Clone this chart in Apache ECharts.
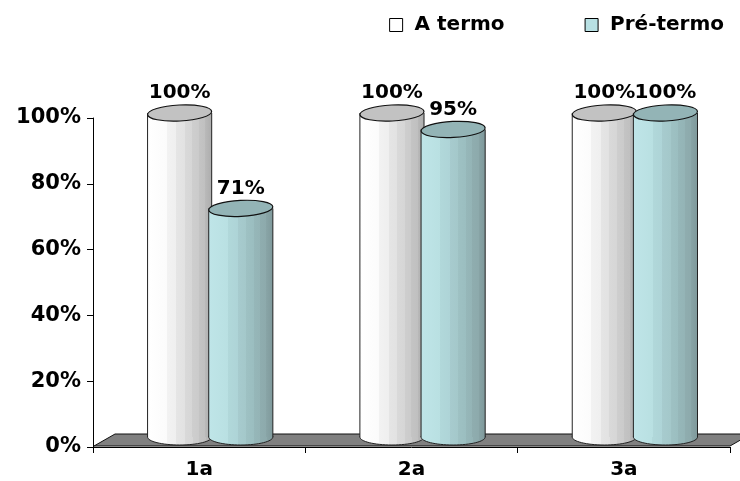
<!DOCTYPE html>
<html>
<head>
<meta charset="utf-8">
<script src="https://cdn.jsdelivr.net/npm/echarts@6/dist/echarts.min.js"></script>
<style>
  html, body { margin: 0; padding: 0; background: #ffffff; }
  #chart { width: 740px; height: 481px; }
</style>
</head>
<body>
<div id="chart"></div>
<script>
// Categories and percentages per group
const categories = ['1a', '2a', '3a'];
const seriesNames = ['A termo', 'Pré-termo'];
const aTermo = [100, 100, 100];
const preTermo = [71, 95, 100];
const yMin = 0, yMax = 100, yStep = 20;

const FONT = 'DejaVu Sans';

// Cylinder palettes: faceted side shading, top cap, legend swatch
const palettes = [
  {
    swatch: '#ffffff',
    cap: '#c2c2c2',
    side: [
      [0, '#ffffff'], [0.30, '#fbfbfb'], [0.30, '#f2f2f2'], [0.45, '#efefef'],
      [0.45, '#e5e5e5'], [0.58, '#e2e2e2'], [0.58, '#d9d9d9'], [0.70, '#d6d6d6'],
      [0.70, '#cecece'], [0.80, '#cbcbcb'], [0.80, '#c4c4c4'], [0.90, '#c0c0c0'],
      [0.90, '#b9b9b9'], [1, '#adadad']
    ]
  },
  {
    swatch: '#b8e0e3',
    cap: '#93b4b6',
    side: [
      [0, '#bfe5e8'], [0.30, '#b9e0e2'], [0.30, '#b1d8da'], [0.45, '#aed4d7'],
      [0.45, '#a7cbce'], [0.58, '#a4c8ca'], [0.58, '#9ec1c3'], [0.70, '#9bbec0'],
      [0.70, '#96b7b9'], [0.80, '#94b4b6'], [0.80, '#8fadaf'], [0.90, '#8daaac'],
      [0.90, '#88a4a6'], [1, '#7f999b']
    ]
  }
];

function gradient(stops) {
  return {
    type: 'linear', x: 0, y: 0, x2: 1, y2: 0,
    colorStops: stops.map(s => ({ offset: s[0], color: s[1] }))
  };
}

// Draws one 3D cylinder per data item, placed from the category band
function cylinderRenderer(seriesIndex) {
  const pal = palettes[seriesIndex];
  const side = seriesIndex === 0 ? -1 : 1;
  return function (params, api) {
    const cat = api.value(0);
    const val = api.value(1);
    const band = api.size([1, 0])[0];
    const w = band * 0.302;
    const rx = w / 2;
    const ry = 8;
    const base = api.coord([cat, 0]);
    const cx = base[0] + band * 0.052 + side * band * 0.144;
    const bottomY = base[1] - 10;
    const topY = api.coord([cat, val])[1] - 5;
    const fill = gradient(pal.side);
    return {
      type: 'group',
      children: [
        {
          type: 'ellipse',
          shape: { cx: cx, cy: bottomY, rx: rx, ry: ry },
          style: { fill: fill, stroke: '#222', lineWidth: 1 }
        },
        {
          type: 'rect',
          shape: { x: cx - rx, y: topY, width: w, height: bottomY - topY },
          style: { fill: fill }
        },
        {
          type: 'line',
          shape: { x1: cx - rx, y1: topY, x2: cx - rx, y2: bottomY },
          style: { stroke: '#222', lineWidth: 1 }
        },
        {
          type: 'line',
          shape: { x1: cx + rx, y1: topY, x2: cx + rx, y2: bottomY },
          style: { stroke: '#222', lineWidth: 1 }
        },
        {
          type: 'ellipse',
          shape: { cx: cx, cy: topY, rx: rx, ry: ry },
          rotation: 0.05,
          originX: cx, originY: topY,
          style: { fill: pal.cap, stroke: '#111', lineWidth: 1.2 }
        },
        {
          type: 'text',
          x: cx, y: topY - ry - 2,
          style: {
            text: val + '%',
            align: 'center', verticalAlign: 'bottom',
            fontFamily: FONT, fontWeight: 'bold', fontSize: 20, fill: '#000'
          }
        }
      ]
    };
  };
}

// Grey floor slab under the cylinders, derived from the plot area
function floorRenderer(params, api) {
  const cs = params.coordSys;
  const yb = cs.y + cs.height;
  const x0 = cs.x, x1 = cs.x + cs.width;
  const dx = 21, dy = 13;
  return {
    type: 'polygon',
    shape: { points: [[x0 + 1, yb - 1], [x0 + 1 + dx, yb - dy], [x1 + dx, yb - dy], [x1, yb - 1]] },
    style: { fill: '#808080', stroke: '#111', lineWidth: 1 }
  };
}

const chart = echarts.init(document.getElementById('chart'));
chart.setOption({
  animation: false,
  backgroundColor: '#ffffff',
  legend: {
    data: seriesNames.map((n, i) => ({
      name: n, icon: 'rect',
      itemStyle: { color: palettes[i].swatch, borderColor: '#000', borderWidth: 1 }
    })),
    formatter: name => ' ' + name,
    right: 11, top: 10,
    itemWidth: 13, itemHeight: 13, itemGap: 80,
    textStyle: { fontFamily: FONT, fontWeight: 'bold', fontSize: 20, color: '#000' }
  },
  grid: { left: 93, right: 10, top: 118, bottom: 34, containLabel: false },
  xAxis: {
    type: 'category',
    data: categories,
    boundaryGap: true,
    axisLine: { show: true, lineStyle: { color: '#000', width: 1 } },
    axisTick: { show: true, length: 6, lineStyle: { color: '#000' } },
    axisLabel: { fontFamily: FONT, fontWeight: 'bold', fontSize: 20, color: '#000', margin: 13 },
    splitLine: { show: false }
  },
  yAxis: {
    type: 'value',
    min: yMin, max: yMax, interval: yStep,
    axisLine: { show: true, lineStyle: { color: '#000', width: 1 } },
    axisTick: { show: true, length: 6, lineStyle: { color: '#000' } },
    axisLabel: { formatter: '{value}%', fontFamily: FONT, fontWeight: 'bold', fontSize: 21, color: '#000', margin: 12 },
    splitLine: { show: false }
  },
  series: [
    {
      name: 'floor', type: 'custom', z: 1, silent: true,
      renderItem: floorRenderer,
      data: [[0, 0]]
    },
    {
      name: seriesNames[0], type: 'custom', z: 3,
      itemStyle: { color: palettes[0].swatch },
      renderItem: cylinderRenderer(0),
      encode: { x: 0, y: 1 },
      data: aTermo.map((v, i) => [i, v])
    },
    {
      name: seriesNames[1], type: 'custom', z: 4,
      itemStyle: { color: palettes[1].swatch },
      renderItem: cylinderRenderer(1),
      encode: { x: 0, y: 1 },
      data: preTermo.map((v, i) => [i, v])
    }
  ]
});
</script>
</body>
</html>
